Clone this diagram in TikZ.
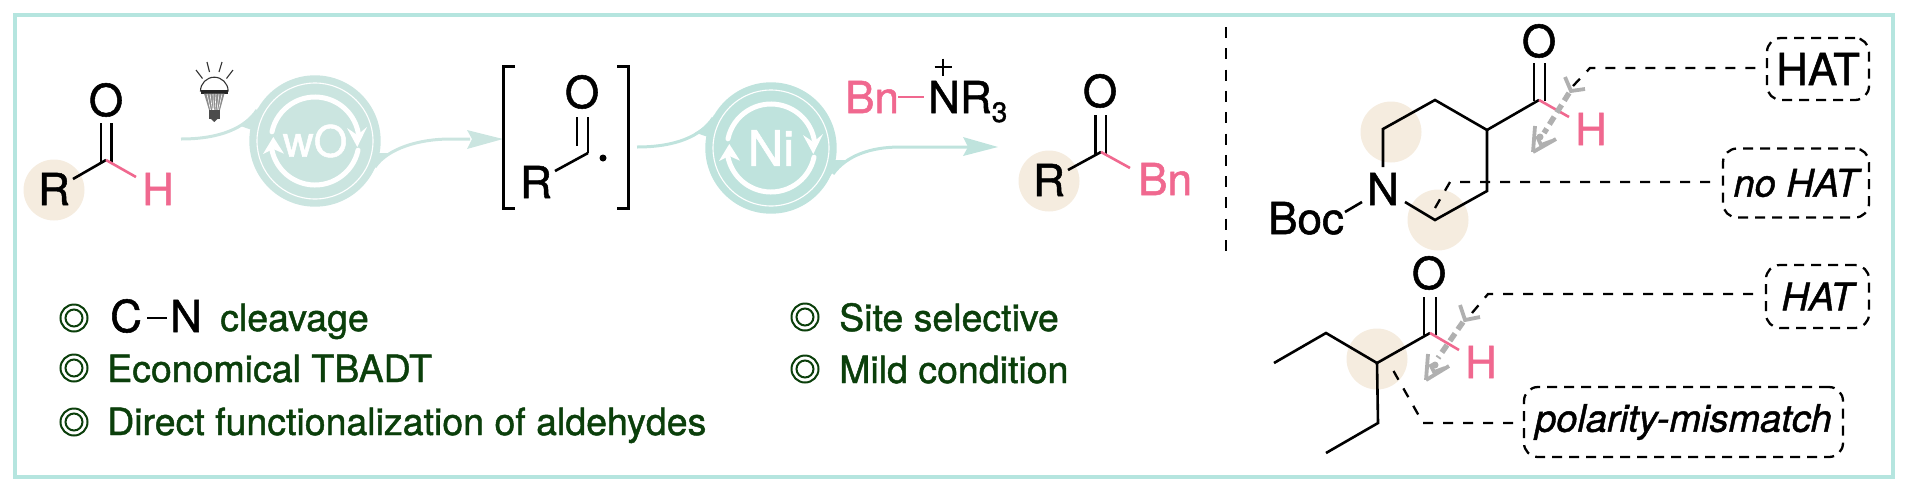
\documentclass[tikz,border=0pt]{standalone}
\usepackage{fontspec}
\setmainfont[FakeBold=1.2]{TeX Gyre Heros}
\definecolor{frameC}{HTML}{B5E5DF}
\definecolor{wash}{HTML}{F5ECDF}
\definecolor{pinkC}{HTML}{F0688F}
\definecolor{catA}{HTML}{CBE5E0}
\definecolor{catB}{HTML}{BFE3DD}
\definecolor{greenT}{HTML}{0B3F0B}
\definecolor{grayA}{HTML}{B0B0B0}
\newcommand{\fatom}{\fontsize{44}{44}\selectfont}
\newcommand{\ftag}{\fontsize{38}{38}\selectfont}
\newcommand{\fbullet}{\fontsize{37.5}{40}\selectfont}
\newcommand{\fcat}{\fontsize{43}{43}\selectfont}
\newcommand{\fni}{\fontsize{49}{49}\selectfont}
\tikzset{
  bond/.style={draw=black,line width=2.6pt},
  pbond/.style={draw=pinkC,line width=2.6pt},
  atom/.style={inner sep=0pt,anchor=base,font=\fatom},
  patom/.style={atom,text=pinkC},
  washc/.style={fill=wash,draw=none},
  leader/.style={draw=black,line width=2.3pt,dash pattern=on 10pt off 10pt},
  tagbox/.style={draw=black,line width=2.3pt,dash pattern=on 10pt off 7pt,rounded corners=14pt,inner sep=0pt,font=\ftag,anchor=center},
  bullet/.style={inner sep=0pt,anchor=base west,font=\fbullet,text=greenT},
  graydash/.style={draw=grayA,line width=5.5pt,dash pattern=on 9pt off 5pt},
  graybarb/.style={draw=grayA,line width=3.8pt},
}
% bullet mark
\newcommand{\ringmark}[3]{\node[circle,draw=greenT,line width=2pt,minimum size=27pt,inner sep=0pt] (#3) at (#1,#2) {};
  \draw[greenT,line width=2pt] (#3.center) circle[radius=8.5pt];}
% catalyst roundel: cx, cy, colour, text, font, name
\newcommand{\catcycle}[6]{%
  \begin{scope}[shift={(#1,#2)}]
    \fill[#3] (-57,-33) .. controls (-62,-25) and (-66,-20) .. (-76,-15.5) -- (-63,-11) -- cycle;
    \fill[#3] (57,31) .. controls (62,24) and (66,18) .. (76,12) -- (63,12) -- cycle;
    \fill[#3] (0,0) circle[radius=65.7pt];
    \draw[white,line width=1.1pt] (0,0) circle[radius=58pt];
    \draw[white,line width=5pt,line cap=round] (168:44pt) arc[start angle=168,end angle=10,radius=44pt];
    \draw[white,line width=5pt,line cap=round] (-12:44pt) arc[start angle=-12,end angle=-168,radius=44pt];
    \fill[white] (42.3,6) -- (32,-13) -- (42.3,-6) -- (52,-14) -- cycle;
    \fill[white] (-41.7,-4) -- (-52,13) -- (-41.7,8) -- (-31,12.7) -- cycle;
    \node[inner sep=0pt,text=white,font=#5] (#6) at (0,0) {#4};
  \end{scope}}
\begin{document}
\begin{tikzpicture}[x=1pt,y=-1pt]
\useasboundingbox (0,0) rectangle (1908,491);
\node[draw=frameC,line width=3.6pt,minimum width=1878pt,minimum height=462pt,inner sep=0pt] (frame) at (954,246) {};

% washes
\fill[washc] (54,190) circle[radius=30.5pt];
\fill[washc] (1049,181) circle[radius=30.5pt];
\fill[washc] (1391,132) circle[radius=30.5pt];
\fill[washc] (1438,220) circle[radius=30.5pt];
\fill[washc] (1377,359) circle[radius=30.5pt];

% aldehyde
\node[atom] (r1) at (54,205) {R};
\node[atom] (o1) at (106,116) {O};
\node[patom] (h1) at (158,205) {H};
\coordinate (c1) at (106,160);
\coordinate (c1l) at (101,163);
\coordinate (c1r) at (111.5,163);
\coordinate (o1l) at (101,123);
\coordinate (o1r) at (111.5,123);
\coordinate (r1b) at (73,179);
\coordinate (h1b) at (136,177);
\draw[bond] (o1l) -- (c1l);
\draw[bond] (o1r) -- (c1r);
\draw[bond] (r1b) -- (c1);
\draw[pbond] (c1) -- (h1b);

% bulb
\begin{scope}
\draw[black!80,line width=1.1pt,fill=white] (200.5,91) arc[start angle=180,end angle=0,radius=13.8pt] -- cycle;
\fill[black!85] (200.5,89.5) rectangle (228.2,93.5);
\fill[black!45] (204,93.5) -- (224.5,93.5) -- (220,110) -- (209,110) -- cycle;
\foreach \xa/\xb in {207/210.5,210/212.5,213/213.5,216/215,219/217,222/218.5}
  \draw[white,line width=.6pt] (\xa,94) -- (\xb,110);
\fill[black!70] (209,110) rectangle (219.5,119);
\fill[black!70] (211,119) -- (217.5,119) -- (214.3,122) -- cycle;
\draw[black!80,line width=1.1pt] (207,62) -- (209.5,72);
\draw[black!80,line width=1.1pt] (222,62) -- (219,72);
\draw[black!80,line width=1.1pt] (196,70) -- (202.5,78.5);
\draw[black!80,line width=1.1pt] (233,70) -- (226.5,78.5);
\end{scope}

% catalysts and arrows
\coordinate (a1s) at (181,139);
\coordinate (a1e) at (257,110);
\draw[catA,line width=3pt] (a1s) .. controls (220,139) and (245,128) .. (a1e);
\catcycle{315}{141}{catA}{wO}{\fcat}{wo}
\coordinate (a2s) at (375,167);
\coordinate (a2m) at (450,139);
\coordinate (a2e) at (470,139);
\draw[catA,line width=3pt] (a2s) .. controls (388,148) and (420,139) .. (a2m) -- (a2e);
\fill[catA] (503,139) -- (467,130) -- (472,139) -- (467,149) -- cycle;

\coordinate (a3s) at (637,147);
\coordinate (a3e) at (713,118);
\draw[catB,line width=3pt] (a3s) .. controls (676,147) and (701,136) .. (a3e);
\catcycle{771}{148}{catB}{Ni}{\fni}{ni}
\coordinate (a4s) at (833,174);
\coordinate (a4m) at (900,147);
\coordinate (a4e) at (968,147);
\draw[catB,line width=3pt] (a4s) .. controls (846,156) and (870,147) .. (a4m) -- (a4e);
\fill[catB] (998,147) -- (963,137) -- (968,147) -- (963,156) -- cycle;

% acyl radical
\coordinate (bl1) at (515,66);
\coordinate (bl2) at (503,66);
\coordinate (bl3) at (503,208);
\coordinate (bl4) at (515,208);
\coordinate (br1) at (617,66);
\coordinate (br2) at (628,66);
\coordinate (br3) at (628,208);
\coordinate (br4) at (617,208);
\draw[bond,line width=3pt] (bl1) -- (bl2) -- (bl3) -- (bl4);
\draw[bond,line width=3pt] (br1) -- (br2) -- (br3) -- (br4);
\node[atom] (o2) at (582,108) {O};
\node[atom] (r2) at (536,198) {R};
\coordinate (c2) at (588,153);
\coordinate (o2l) at (577,117);
\coordinate (c2l) at (577,146);
\coordinate (o2r) at (588,117);
\coordinate (r2b) at (555,171);
\draw[bond] (o2l) -- (c2l);
\draw[bond] (o2r) -- (c2);
\draw[bond] (r2b) -- (c2);
\fill (603,158) circle[radius=3.5pt];

% ammonium
\node[patom,anchor=base west] (bn) at (845,113) {Bn};
\node[atom,anchor=base west] (nr) at (928,113) {NR\raisebox{-9pt}{\fontsize{28}{28}\selectfont 3}};
\coordinate (bnb) at (898,97);
\coordinate (nrb) at (924,97);
\draw[pbond] (bnb) -- (nrb);
\draw[black,line width=2pt] (934.5,67) -- (951.5,67) (943,58.5) -- (943,75.5);

% product
\node[atom] (r3) at (1049,196) {R};
\node[atom] (o3) at (1100,107) {O};
\node[patom,anchor=base west] (bn3) at (1138,195) {Bn};
\coordinate (c3) at (1101,152);
\coordinate (r3b) at (1068,170);
\coordinate (b3b) at (1130,168);
\draw[bond] (1095.5,115) -- (1095.5,155);
\draw[bond] (1106,115) -- (1106,155);
\draw[bond] (r3b) -- (c3);
\draw[pbond] (c3) -- (b3b);

% divider
\coordinate (d1) at (1226,27);
\coordinate (d2) at (1226,252);
\draw[black,line width=2.6pt,dash pattern=on 11pt off 10.3pt] (d1) -- (d2);

% piperidine
\node[atom] (o4) at (1539,57) {O};
\node[patom] (h4) at (1591,145) {H};
\node[atom] (n4) at (1383,205) {N};
\node[atom,anchor=base west] (boc) at (1268,234) {Boc};
\coordinate (c41) at (1539,100);
\coordinate (c42) at (1487,130);
\coordinate (c43) at (1435,100);
\coordinate (c44) at (1383,129);
\coordinate (c45) at (1383,167);
\coordinate (c46) at (1487,191);
\coordinate (c47) at (1435,220);
\coordinate (c48) at (1405,202);
\coordinate (h4b) at (1569,117);
\draw[bond] (1534,63) -- (1534,101);
\draw[bond] (1545,63) -- (1545,101);
\draw[bond,line join=miter] (c45) -- (c44) -- (c43) -- (c42) -- (c41);
\draw[bond] (c42) -- (c46) -- (c47) -- (c48);
\draw[pbond] (c41) -- (h4b);
\draw[bond] (1345,212) -- (1362,202);

% gray double arrow 1
\draw[graydash] (1569,93) -- (1544,133);
\draw[graybarb] (1565,77) -- (1571,91) -- (1585,89);
\draw[graybarb] (1533,152) -- (1535,126);
\draw[graybarb] (1533,152) -- (1556,139);
\draw[graybarb] (1537,136) -- (1541,145) -- (1552,141);
\fill[grayA] (1540,137) circle[radius=3.5pt];

% tags, top
\node[tagbox,font=\fatom,minimum width=102pt,minimum height=62pt] (t1) at (1818,69) {HAT};
\node[tagbox,minimum width=146pt,minimum height=69pt] (t2) at (1796,183) {\itshape no HAT};
\coordinate (l1a) at (1573,86);
\coordinate (l1b) at (1590,68);
\draw[leader] (l1a) -- (l1b) -- (1757,68);
\coordinate (l2a) at (1435,208);
\coordinate (l2b) at (1450,182);
\draw[leader] (l2a) -- (l2b) -- (1717,182);

% lower ketone
\node[atom] (o5) at (1429,289) {O};
\node[patom] (h5) at (1481,378) {H};
\coordinate (c51) at (1430,333);
\coordinate (c52) at (1377,363);
\coordinate (c53) at (1326,333);
\coordinate (c54) at (1274,363);
\coordinate (c55) at (1378,423);
\coordinate (c56) at (1326,453);
\coordinate (h5b) at (1459,350);
\draw[bond] (1424,297) -- (1424,335);
\draw[bond] (1436,297) -- (1436,335);
\draw[bond,line join=miter] (c54) -- (c53) -- (c52) -- (c51);
\draw[bond,line join=miter] (c52) -- (c55) -- (c56);
\draw[pbond] (c51) -- (h5b);

% gray double arrow 2
\draw[graydash] (1463,322) -- (1438,358);
\draw[graybarb] (1460,305) -- (1465,320) -- (1480,317);
\draw[graybarb] (1426,380) -- (1428,354);
\draw[graybarb] (1426,380) -- (1449,366);
\draw[graybarb] (1430,364) -- (1434,372) -- (1445,368);
\fill[grayA] (1435,365) circle[radius=3.5pt];

% tags, bottom
\node[tagbox,minimum width=103pt,minimum height=63pt] (t3) at (1817.5,296.5) {\itshape HAT};
\node[tagbox,minimum width=319pt,minimum height=70pt] (t4) at (1683.5,422) {\itshape polarity-mismatch};
\coordinate (l3a) at (1472,313);
\coordinate (l3b) at (1488,294);
\draw[leader] (l3a) -- (l3b) -- (1762,294);
\coordinate (l4a) at (1393.5,371);
\coordinate (l4b) at (1423,423);
\draw[leader] (l4a) -- (l4b) -- (1519,423);

% bullets
\ringmark{74}{318}{m1}
\ringmark{74}{368}{m2}
\ringmark{74}{422}{m3}
\ringmark{805}{317}{m4}
\ringmark{805}{369}{m5}
\node[atom,anchor=base west] (cc) at (110,332) {C};
\node[atom,anchor=base west] (cn) at (170,332) {N};
\draw[black,line width=2pt] (147,318) -- (167,318);
\node[bullet] (b1) at (220,331) {cleavage};
\node[bullet] (b2) at (107,382) {Economical TBADT};
\node[bullet] (b3) at (107,435) {Direct functionalization of aldehydes};
\node[bullet] (b4) at (839,331) {Site selective};
\node[bullet] (b5) at (839,383) {Mild condition};
\end{tikzpicture}
\end{document}
